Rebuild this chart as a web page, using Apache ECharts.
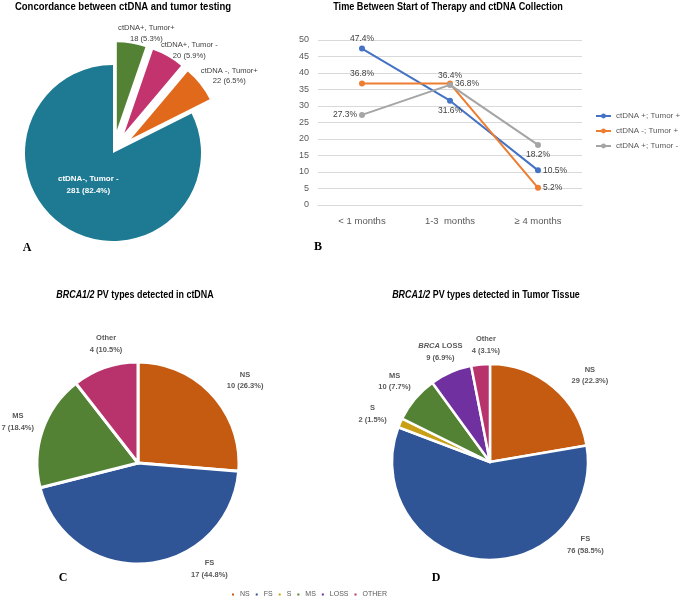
<!DOCTYPE html>
<html>
<head>
<meta charset="utf-8">
<script src="https://cdn.jsdelivr.net/npm/echarts@6/dist/echarts.min.js"></script>
<style>
  html, body { margin: 0; padding: 0; background: #fff; }
  #chart { width: 683px; height: 601px; }
</style>
</head>
<body>
<div id="chart"></div>
<script>
// A - concordance between ctDNA and tumor testing
const concordNames = ['ctDNA+, Tumor+', 'ctDNA+, Tumor -', 'ctDNA -, Tumor+', 'ctDNA-, Tumor -']
const concordCounts = [18, 20, 22, 281]
const concordPct = [5.3, 5.9, 6.5, 82.4]

// B - time between start of therapy and ctDNA collection (%)
const timeCats = ['< 1 months', '1-3  months', '≥ 4 months']
const lineNames = ['ctDNA +; Tumor +', 'ctDNA -; Tumor +', 'ctDNA +; Tumor -']
const posPos = [47.4, 31.6, 10.5]
const negPos = [36.8, 36.8, 5.2]
const posNeg = [27.3, 36.4, 18.2]

// C - PV types detected in ctDNA
const ctdnaTypes = ['NS', 'FS', 'MS', 'OTHER']
const ctdnaLabels = ['NS', 'FS', 'MS', 'Other']
const ctdnaCounts = [10, 17, 7, 4]
const ctdnaPct = [26.3, 44.8, 18.4, 10.5]

// D - PV types detected in tumor tissue
const tumorTypes = ['NS', 'FS', 'S', 'MS', 'LOSS', 'OTHER']
const tumorLabels = ['NS', 'FS', 'S', 'MS', 'BRCA LOSS', 'Other']
const tumorCounts = [29, 76, 2, 10, 9, 4]
const tumorPct = [22.3, 58.5, 1.5, 7.7, 6.9, 3.1]

const FONT = "'Liberation Sans', Arial, sans-serif"
const SERIF = "'Liberation Serif', 'DejaVu Serif', serif"
const typeColors = { NS: '#C55A11', FS: '#2F5597', S: '#C9A015', MS: '#548235', LOSS: '#7030A0', OTHER: '#B8336C' }
const concordColors = ['#548235', '#C3336E', '#E0691B', '#1E7A92']
const lineColors = ['#4472C4', '#ED7D31', '#A5A5A5']
const lineLabelPos = [
  ['top', 'bottom', 'right'],
  ['top', 'right', 'right'],
  ['left', 'top', 'bottom']
]

function midAngles(counts) {
  const total = counts.reduce((a, b) => a + b, 0)
  let acc = 0
  return counts.map(v => { const m = (acc + v / 2) / total * 360; acc += v; return m })
}

// put the outside pie labels around the slice, like Excel's best fit
function pieLabels(cx, cy, r, counts, gap, fix, skip, nudge) {
  const mids = midAngles(counts)
  return function (p) {
    if (skip && skip.includes(p.dataIndex)) return {}
    const deg = fix[p.dataIndex] != null ? fix[p.dataIndex] : mids[p.dataIndex]
    const a = deg * Math.PI / 180
    const w = p.labelRect.width / 2, h = p.labelRect.height / 2
    const d = r + gap + w * Math.abs(Math.sin(a)) + h * Math.abs(Math.cos(a))
    const n = (nudge && nudge[p.dataIndex]) || [0, 0]
    return { x: cx + d * Math.sin(a) + n[0], y: cy - d * Math.cos(a) + n[1], align: 'center', verticalAlign: 'middle' }
  }
}

function titleText(x, y, text, size, sx, rich) {
  const el = {
    type: 'text', x: x, y: y, scaleX: sx,
    style: { text: text, align: 'center', verticalAlign: 'middle', font: 'bold ' + size + 'px ' + FONT, fill: '#000' }
  }
  if (rich) {
    el.style.rich = {
      i: { font: 'italic bold ' + size + 'px ' + FONT, fill: '#000' },
      b: { font: 'bold ' + size + 'px ' + FONT, fill: '#000' }
    }
  }
  return el
}

function panelLetter(x, y, t) {
  return { type: 'text', x: x, y: y, style: { text: t, align: 'center', verticalAlign: 'middle', font: 'bold 12px ' + SERIF, fill: '#000' } }
}

const chart = echarts.init(document.getElementById('chart'))

const lineSeries = [posPos, negPos, posNeg].map((vals, s) => ({
  name: lineNames[s],
  type: 'line',
  data: vals.map((v, i) => ({
    value: v,
    label: { position: lineLabelPos[s][i] }
  })),
  symbol: 'circle',
  symbolSize: 6,
  lineStyle: { width: 2, color: lineColors[s] },
  itemStyle: { color: lineColors[s] },
  label: {
    show: true,
    distance: 2,
    formatter: p => p.value + '%',
    fontSize: 8.5,
    color: '#404040'
  }
}))

// exploded pie: one layer per slice, the small ones pushed out along their mid angle
const concordMids = midAngles(concordCounts)
const concordSeries = concordCounts.map((_, k) => {
  const off = k < 3 ? 23 : 0
  const a = concordMids[k] * Math.PI / 180
  const cx = 113 + off * Math.sin(a)
  const cy = 153 - off * Math.cos(a)
  return {
    type: 'pie',
    center: [cx, cy],
    radius: 88,
    silent: true,
    avoidLabelOverlap: false,
    labelLine: { show: false },
    labelLayout: pieLabels(cx, cy, 88, concordCounts, -5, { 0: 17, 1: 38, 2: 56 }, [3],
      { 1: [-2, 3], 2: [5, 0] }),
    label: {
      position: 'outside',
      fontSize: 7.6,
      lineHeight: 10.5,
      color: '#404040',
      formatter: p => concordNames[p.dataIndex] + '\n' + concordCounts[p.dataIndex] + ' (' + concordPct[p.dataIndex] + '%)'
    },
    data: concordCounts.map((v, i) => ({
      name: concordNames[i],
      value: v,
      itemStyle: { color: i === k ? concordColors[i] : 'rgba(0,0,0,0)' },
      label: i !== k
        ? { show: false }
        : i === 3
          ? { show: true, position: 'inside', color: '#fff', fontWeight: 'bold', fontSize: 8, lineHeight: 12, offset: [0, -8] }
          : { show: true }
    }))
  }
})

const option = {
  animation: false,
  backgroundColor: '#fff',
  textStyle: { fontFamily: FONT },
  grid: [{ left: 318, right: 101, top: 40, bottom: 396 }],
  xAxis: [{
    type: 'category',
    data: timeCats,
    axisLine: { lineStyle: { color: '#D9D9D9' } },
    axisTick: { show: false },
    axisLabel: { color: '#595959', fontSize: 9.5, margin: 11 }
  }],
  yAxis: [{
    type: 'value',
    min: 0,
    max: 50,
    interval: 5,
    axisLine: { show: false },
    axisTick: { show: false },
    axisLabel: { color: '#595959', fontSize: 9, margin: 9 },
    splitLine: { lineStyle: { color: '#D9D9D9' } }
  }],
  legend: [
    {
      data: lineNames,
      orient: 'vertical',
      left: 590,
      top: 107,
      itemWidth: 15,
      itemHeight: 6,
      itemGap: 7,
      textStyle: { fontSize: 8, color: '#595959' }
    },
    {
      data: tumorTypes,
      left: 225,
      top: 586,
      icon: 'rect',
      itemWidth: 4,
      itemHeight: 4,
      itemGap: 4,
      textStyle: { fontSize: 7, color: '#595959' }
    }
  ],
  series: [
    ...lineSeries,
    ...concordSeries,
    {
      type: 'pie',
      center: [138, 463],
      radius: 101,
      avoidLabelOverlap: false,
      emphasis: { disabled: true },
      itemStyle: { borderColor: '#fff', borderWidth: 3 },
      labelLine: { show: false },
      labelLayout: pieLabels(138, 463, 101, ctdnaCounts, 7, { 0: 52, 1: 146, 3: 345 }, null,
        { 0: [5, -3] }),
      label: {
        show: true,
        position: 'outside',
        fontSize: 7.5,
        lineHeight: 11.5,
        fontWeight: 'bold',
        color: '#595959',
        formatter: p => ctdnaLabels[p.dataIndex] + '\n' + ctdnaCounts[p.dataIndex] + ' (' + ctdnaPct[p.dataIndex] + '%)'
      },
      data: ctdnaCounts.map((v, i) => ({
        name: ctdnaTypes[i],
        value: v,
        itemStyle: { color: typeColors[ctdnaTypes[i]] }
      }))
    },
    {
      type: 'pie',
      center: [490, 462],
      radius: 98,
      avoidLabelOverlap: false,
      emphasis: { disabled: true },
      itemStyle: { borderColor: '#fff', borderWidth: 2.5 },
      labelLayout: pieLabels(490, 462, 98, tumorCounts, 7, { 0: 48, 1: 131, 5: 358 }, null,
        { 0: [6, -2], 2: [-5, 1], 4: [0, 4] }),
      labelLine: { show: false },
      label: {
        show: true,
        position: 'outside',
        fontSize: 7.5,
        lineHeight: 11.5,
        fontWeight: 'bold',
        color: '#595959',
        rich: { i: { fontStyle: 'italic', fontWeight: 'bold', fontSize: 7.5, color: '#595959' } },
        formatter: p => tumorLabels[p.dataIndex].replace('BRCA', '{i|BRCA}') + '\n' + tumorCounts[p.dataIndex] + ' (' + tumorPct[p.dataIndex] + '%)'
      },
      data: tumorCounts.map((v, i) => ({
        name: tumorTypes[i],
        value: v,
        itemStyle: { color: typeColors[tumorTypes[i]] }
      }))
    }
  ],
  graphic: [
    titleText(123, 7, 'Concordance between ctDNA and tumor testing', 11, 0.865),
    titleText(448, 7, 'Time Between Start of Therapy and ctDNA Collection', 11, 0.83),
    titleText(135, 295, '{i|BRCA1/2}{b| PV types detected in ctDNA}', 10, 0.89, true),
    titleText(486, 295, '{i|BRCA1/2}{b| PV types detected in Tumor Tissue}', 10, 0.89, true),
    panelLetter(27, 248, 'A'),
    panelLetter(318, 247, 'B'),
    panelLetter(63, 578, 'C'),
    panelLetter(436, 578, 'D')
  ]
}

chart.setOption(option)
</script>
</body>
</html>
